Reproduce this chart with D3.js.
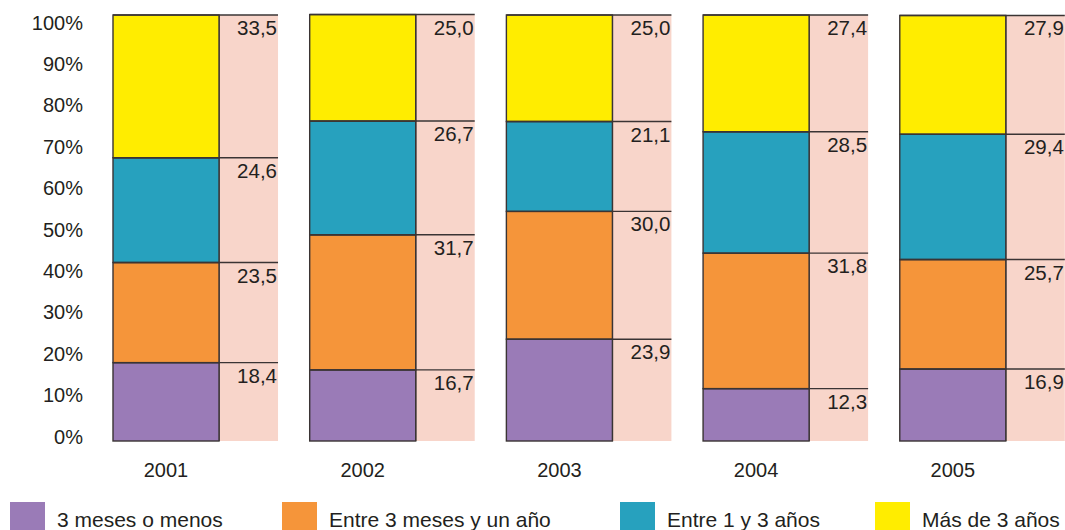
<!DOCTYPE html>
<html>
<head>
<meta charset="utf-8">
<script src="https://cdn.jsdelivr.net/npm/d3@7"></script>
<style>
  html, body { margin: 0; padding: 0; background: #fff; }
  svg { display: block; font-family: "Liberation Sans", Arial, Helvetica, sans-serif; }
</style>
</head>
<body>
<svg id="chart" width="1065" height="530"></svg>
<script>
// Years shown along the bottom
const years = ["2001", "2002", "2003", "2004", "2005"];

// Series names (legend order, bottom to top in each stack)
const seriesNames = ["3 meses o menos", "Entre 3 meses y un año", "Entre 1 y 3 años", "Más de 3 años"];

// Percentage share for each series, one value per year
const tresMesesOMenos = [18.4, 16.7, 23.9, 12.3, 16.9];
const entre3MesesYUnAnio = [23.5, 31.7, 30.0, 31.8, 25.7];
const entre1Y3Anios = [24.6, 26.7, 21.1, 28.5, 29.4];
const masDe3Anios = [33.5, 25.0, 25.0, 27.4, 27.9];

// Y axis ticks
const yTicks = [0, 10, 20, 30, 40, 50, 60, 70, 80, 90, 100];

const colors = ["#9a7bb7", "#f5953a", "#27a1be", "#ffed00"];
const panelColor = "#f8d5ca";
const lineColor = "#3a3434";
const textColor = "#231f20";

const rows = years.map((yr, i) => ({
  year: yr,
  [seriesNames[0]]: tresMesesOMenos[i],
  [seriesNames[1]]: entre3MesesYUnAnio[i],
  [seriesNames[2]]: entre1Y3Anios[i],
  [seriesNames[3]]: masDe3Anios[i]
}));

const stacked = d3.stack().keys(seriesNames)(rows);

const svg = d3.select("#chart");

// Each year occupies a band: a coloured bar plus a pink label strip
const x = d3.scaleBand().domain(years).range([113, 1064.8]).paddingInner(0.161).paddingOuter(0);
const barW = x.bandwidth() * 106 / 165;

const y = d3.scaleLinear().domain([0, 100]).range([441, 15]);
const yLabel = d3.scaleLinear().domain([0, 100]).range([436, 22]);

const fmt = d3.formatLocale({ decimal: ",", thousands: ".", grouping: [3], currency: ["", " €"] }).format(".1f");

// Y axis (labels only)
const axis = svg.append("g")
  .attr("transform", "translate(83,0)")
  .call(d3.axisLeft(yLabel).tickValues(yTicks).tickFormat(d => d + "%").tickSize(0).tickPadding(0));
axis.select(".domain").remove();
axis.selectAll("text")
  .attr("font-size", 20)
  .attr("font-family", "\"Liberation Sans\", Arial, sans-serif")
  .attr("fill", textColor)
  .attr("dy", "0.35em");

const totals = years.map((yr, i) => stacked[stacked.length - 1][i][1]);

const groups = svg.append("g").selectAll("g.year")
  .data(years)
  .join("g")
  .attr("class", "year");

// Pink label strip to the right of each bar
groups.append("rect")
  .attr("x", d => x(d) + barW)
  .attr("y", (d, i) => y(totals[i]))
  .attr("width", x.bandwidth() - barW)
  .attr("height", (d, i) => y(0) - y(totals[i]))
  .attr("fill", panelColor);

// Stacked segments
stacked.forEach((layer, k) => {
  svg.append("g").selectAll("rect")
    .data(layer)
    .join("rect")
    .attr("x", d => x(d.data.year))
    .attr("y", d => y(d[1]))
    .attr("width", barW)
    .attr("height", d => y(d[0]) - y(d[1]))
    .attr("fill", colors[k])
    .attr("stroke", lineColor)
    .attr("stroke-width", 1.4);
});

// Leader lines at the top of each segment, running across the strip
stacked.forEach(layer => {
  svg.append("g").selectAll("line")
    .data(layer)
    .join("line")
    .attr("x1", d => x(d.data.year))
    .attr("x2", d => x(d.data.year) + x.bandwidth())
    .attr("y1", d => y(d[1]))
    .attr("y2", d => y(d[1]))
    .attr("stroke", lineColor)
    .attr("stroke-width", 1.4);

  svg.append("g").selectAll("text")
    .data(layer)
    .join("text")
    .attr("x", d => x(d.data.year) + x.bandwidth() - 1)
    .attr("y", d => y(d[1]) + 20)
    .attr("text-anchor", "end")
    .attr("font-size", 20.5)
    .attr("fill", textColor)
    .text(d => fmt(d[1] - d[0]));
});

// Divider between bar and strip
groups.append("line")
  .attr("x1", d => x(d) + barW)
  .attr("x2", d => x(d) + barW)
  .attr("y1", (d, i) => y(totals[i]))
  .attr("y2", y(0))
  .attr("stroke", lineColor)
  .attr("stroke-width", 1.4);

// Year labels centred under the bars
groups.append("text")
  .attr("x", d => x(d) + barW / 2)
  .attr("y", 477)
  .attr("text-anchor", "middle")
  .attr("font-size", 20)
  .attr("fill", textColor)
  .text(d => d);

// Legend
const legendX = [10, 282, 620, 875];
const legend = svg.append("g").selectAll("g")
  .data(seriesNames)
  .join("g")
  .attr("transform", (d, i) => `translate(${legendX[i]},502)`);
legend.append("rect")
  .attr("width", 35)
  .attr("height", 35)
  .attr("fill", (d, i) => colors[i]);
legend.append("text")
  .attr("x", 47)
  .attr("y", 25)
  .attr("font-size", 21)
  .attr("fill", textColor)
  .text(d => d);
</script>
</body>
</html>
